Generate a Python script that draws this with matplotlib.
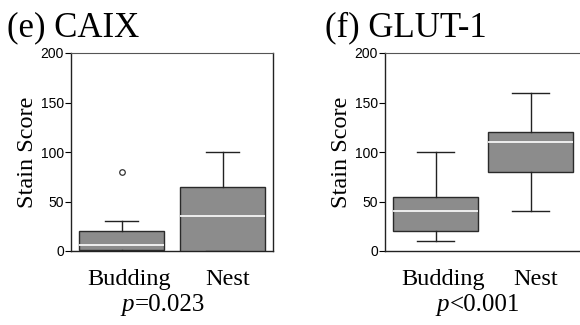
import matplotlib
matplotlib.use("Agg")
import matplotlib.pyplot as plt

categories = ["Budding", "Nest"]
# CAIX stats: whislo, q1, med, q3, whishi
caix_whislo = [0, 0]
caix_q1 = [1, 0]
caix_med = [6, 35]
caix_q3 = [20, 65]
caix_whishi = [30, 100]
caix_fliers = [[80], []]
# GLUT-1 stats
glut_whislo = [10, 40]
glut_q1 = [20, 80]
glut_med = [40, 110]
glut_q3 = [55, 120]
glut_whishi = [100, 160]
glut_fliers = [[], []]

yticks = [0, 50, 100, 150, 200]
titles = ["(e) CAIX", "(f) GLUT-1"]
pvals = [("p", "=0.023"), ("p", "<0.001")]

serif = ["Liberation Serif", "DejaVu Serif"]
sans = ["Liberation Sans", "DejaVu Sans"]

W, H = 580, 325
fig = plt.figure(figsize=(W / 100, H / 100), dpi=100)


def px_axes(x0, x1, y0, y1):
    return fig.add_axes([x0 / W, (H - y1) / H, (x1 - x0) / W, (y1 - y0) / H])


def draw(ax, whislo, q1, med, q3, whishi, fliers, width, xlim, capw):
    stats = []
    for i in range(len(categories)):
        stats.append(dict(whislo=whislo[i], q1=q1[i], med=med[i], q3=q3[i],
                          whishi=whishi[i], fliers=fliers[i], label=categories[i]))
    ax.bxp(stats, positions=[1, 2], widths=width, patch_artist=True,
           capwidths=capw,
           boxprops=dict(facecolor="#8c8c8c", edgecolor="#2a2a2a", linewidth=1.0),
           medianprops=dict(color="white", linewidth=1.2),
           whiskerprops=dict(color="#222222", linewidth=1.0),
           capprops=dict(color="#222222", linewidth=1.0),
           flierprops=dict(marker="o", markersize=4, markerfacecolor="none",
                           markeredgecolor="#333333", markeredgewidth=0.9),
           zorder=3)
    ax.set_xlim(*xlim)
    ax.set_ylim(0, 200)
    ax.set_yticks(yticks)
    ax.set_yticklabels([str(t) for t in yticks], family=sans, fontsize=10)
    ax.tick_params(axis="y", direction="out", length=4, width=0.8, pad=1)
    ax.set_xticks([1.08, 2.05])
    ax.set_xticklabels(categories, family=serif, fontsize=17.5)
    ax.tick_params(axis="x", length=0, pad=13)
    ax.set_ylabel("Stain Score", family=serif, fontsize=17.5, labelpad=2)
    for s in ["left", "bottom"]:
        ax.spines[s].set_linewidth(1.0)
        ax.spines[s].set_color("#222222")
    ax.spines["top"].set_linewidth(0.8)
    ax.spines["top"].set_color("#555555")
    ax.spines["right"].set_linewidth(1.0)
    ax.spines["right"].set_color("#222222")


ax1 = px_axes(71, 273, 53, 251)
draw(ax1, caix_whislo, caix_q1, caix_med, caix_q3, caix_whishi, caix_fliers,
     0.84, (0.5, 2.5), 0.33)
ax2 = px_axes(385, 579, 53, 251)
draw(ax2, glut_whislo, glut_q1, glut_med, glut_q3, glut_whishi, glut_fliers,
     0.89, (0.468, 2.51), 0.38)
ax2.spines["right"].set_visible(False)

fig.text(7 / W, 1 - 36 / H, titles[0], family=serif, fontsize=25, va="baseline", ha="left")
fig.text(325 / W, 1 - 36 / H, titles[1], family=serif, fontsize=25, va="baseline", ha="left")

renderer = fig.canvas.get_renderer()
for x0, (p, rest) in zip([121, 436], pvals):
    t = fig.text(x0 / W, 1 - 311 / H, p, family=serif, style="italic", fontsize=18,
                 va="baseline", ha="left")
    bb = t.get_window_extent(renderer=renderer)
    fig.text((bb.x1 + 1) / W, 1 - 311 / H, rest, family=serif, fontsize=18,
             va="baseline", ha="left")

fig.savefig("out.png", dpi=100)
